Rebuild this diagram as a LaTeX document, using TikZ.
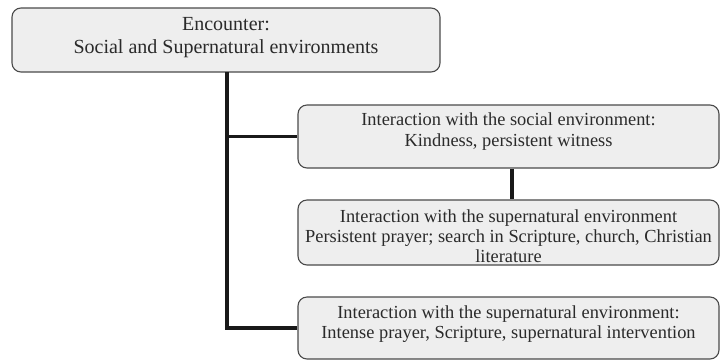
\documentclass[tikz,border=0pt]{standalone}
\usepackage{fontspec}
\setmainfont{Liberation Serif}
\definecolor{boxfill}{HTML}{EEEEEE}
\definecolor{boxline}{HTML}{4A4A4A}
\definecolor{txt}{HTML}{2A2A2A}
\begin{document}
\begin{tikzpicture}[x=1pt,y=-1pt,
  panel/.style={draw=boxline,line width=1.1pt,fill=boxfill,rounded corners=9pt,inner sep=0pt},
  bigtext/.style={inner sep=0pt,anchor=north,align=center,text=txt,font=\fontsize{20}{23}\selectfont},
  smalltext/.style={inner sep=0pt,anchor=north,align=center,text=txt},
  link/.style={line width=3.6pt,draw=black!90}]
\useasboundingbox (0,0) rectangle (720,360);
% boxes
\node[panel,minimum width=428pt,minimum height=64pt] (top) at (226,40) {};
\node[panel,minimum width=421pt,minimum height=63pt] (b2) at (508.5,136.5) {};
\node[panel,minimum width=421pt,minimum height=65pt] (b3) at (508.5,232.5) {};
\node[panel,minimum width=421pt,minimum height=62pt] (b4) at (508.5,328) {};
% texts
\node[bigtext] (t1) at (226,16.8) {Encounter:\\Social and Supernatural environments};
\node[smalltext,font=\fontsize{18.4}{21}\selectfont] (t2) at (508.5,112.4) {Interaction with the social environment:\\Kindness, persistent witness};
\node[smalltext,font=\fontsize{18.4}{20}\selectfont] (t3) at (508.5,209.4) {Interaction with the supernatural environment\\Persistent prayer; search in Scripture, church, Christian\\literature};
\node[smalltext,font=\fontsize{18.4}{20}\selectfont] (t4) at (508.5,305.4) {Interaction with the supernatural environment:\\Intense prayer, Scripture, supernatural intervention};
% connectors
\coordinate (j1) at (227,136.5);
\coordinate (j2) at (227,328);
\coordinate (s1) at (227,72);
\draw[link] (s1) -- (j2) -- (b4.west);
\draw[link] (j1) -- (b2.west);
\draw[link] ([xshift=3.5pt]b2.south) -- ([xshift=3.5pt]b3.north);
\end{tikzpicture}
\end{document}
